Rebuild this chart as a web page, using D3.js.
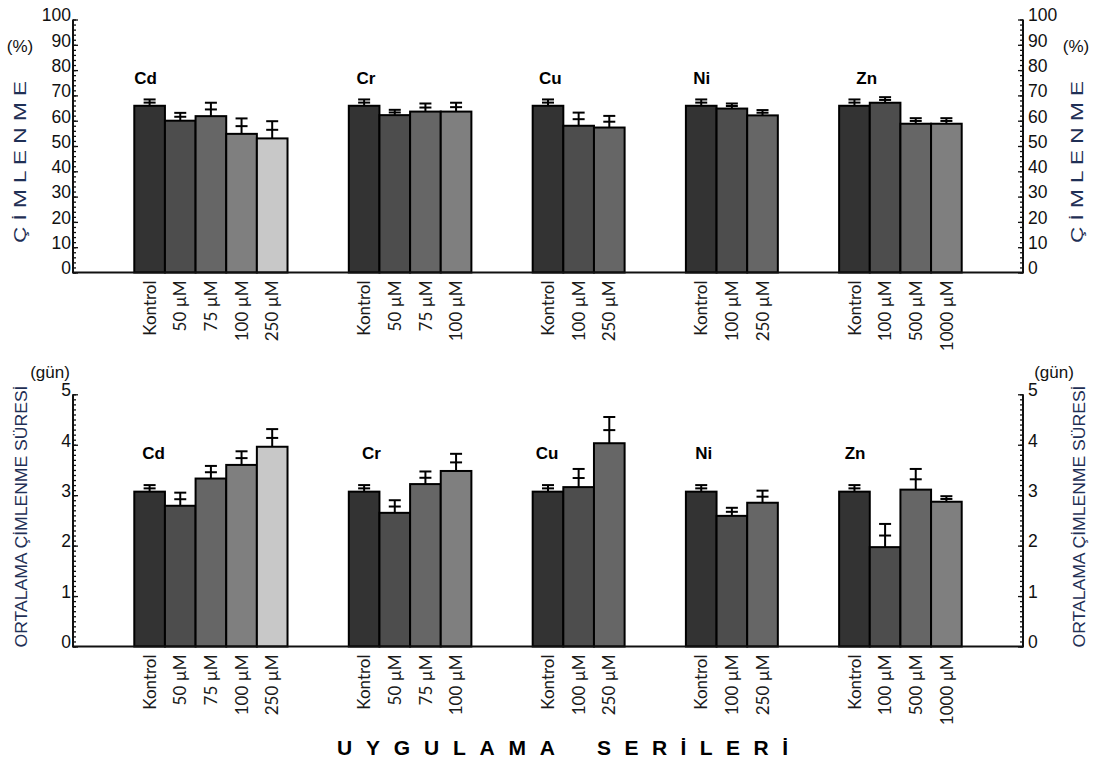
<!DOCTYPE html>
<html>
<head>
<meta charset="utf-8">
<script src="https://cdn.jsdelivr.net/npm/d3@7/dist/d3.min.js"></script>
<style>
  body { margin: 0; background: #fff; }
  text { font-family: "Liberation Sans", Arial, sans-serif; }
</style>
</head>
<body>
<div id="chart"></div>
<script>
// ---------- data ----------
const groupNames = ["Cd", "Cr", "Cu", "Ni", "Zn"];
const doseLabels = [
  ["Kontrol", "50 µM", "75 µM", "100 µM", "250 µM"],
  ["Kontrol", "50 µM", "75 µM", "100 µM"],
  ["Kontrol", "100 µM", "250 µM"],
  ["Kontrol", "100 µM", "250 µM"],
  ["Kontrol", "100 µM", "500 µM", "1000 µM"]
];
// germination (%)
const germPct = [
  [65.9, 60.0, 61.8, 54.8, 53.0],
  [65.9, 62.2, 63.6, 63.6],
  [65.9, 58.0, 57.3],
  [65.9, 64.8, 62.1],
  [65.9, 67.1, 58.8, 58.8]
];
const germPctErr = [
  [2.5, 3.1, 5.3, 6.1, 6.8],
  [2.5, 2.1, 3.2, 3.5],
  [2.5, 5.2, 4.6],
  [2.5, 2.0, 2.1],
  [2.5, 2.2, 2.2, 2.2]
];
// mean germination time (gün)
const meanDays = [
  [3.07, 2.79, 3.33, 3.60, 3.96],
  [3.07, 2.65, 3.22, 3.48],
  [3.07, 3.16, 4.03],
  [3.07, 2.59, 2.85],
  [3.07, 1.97, 3.11, 2.87]
];
const meanDaysErr = [
  [0.13, 0.26, 0.25, 0.27, 0.35],
  [0.13, 0.25, 0.25, 0.34],
  [0.13, 0.36, 0.52],
  [0.13, 0.16, 0.24],
  [0.13, 0.46, 0.41, 0.11]
];
const topTicks = d3.range(0, 101, 10);
const bottomTicks = d3.range(0, 6, 1);

// ---------- layout ----------
const width = 1103, height = 765;
const xLeft = 73, xRight = 1023;
const fills = ["#333333", "#4d4d4d", "#666666", "#7f7f7f", "#c8c8c8"];
const axisColor = "#111";
const titleColor = "#1f2f55";

const svg = d3.select("#chart").append("svg")
  .attr("width", width).attr("height", height);

// category slots with empty gaps between metal groups
const slots = [];
const gap = (n, k) => { for (let i = 0; i < n; i++) slots.push("gap" + k + "_" + i); };
gap(2, 0);
groupNames.forEach((g, gi) => {
  doseLabels[gi].forEach((d, di) => slots.push(g + "|" + di));
  gap(2, gi + 1);
});
const x = d3.scaleBand().domain(slots).range([xLeft, xRight]).padding(0);

const panels = [
  {
    y: d3.scaleLinear().domain([0, 100]).range([272.5, 19.5]),
    values: germPct, errs: germPctErr, major: topTicks, minorStep: 2,
    unit: "(%)", unitPos: [[20, 52], [1076, 52]],
    title: "Ç İ M L E N M E", titleLen: 162, titleX: [26, 1083], midY: 162,
    groupNudge: [0, 7.7, 6.3, 7.4, 17.2], groupBase: 83.5
  },
  {
    y: d3.scaleLinear().domain([0, 5]).range([646.5, 394.3]),
    values: meanDays, errs: meanDaysErr, major: bottomTicks, minorStep: 0.1,
    unit: "(gün)", unitPos: [[50, 378], [1054, 378]],
    title: "ORTALAMA ÇİMLENME SÜRESİ", titleLen: 262, titleX: [27, 1085], midY: 516.5,
    groupNudge: [8, 13.3, 3, 9.4, 5.5], groupBase: 458.5
  }
];

panels.forEach((p) => {
  const y = p.y;
  const y0 = y(0);
  const g = svg.append("g");
  const dom = y.domain();

  // minor + major ticks, inward on both sides
  const minor = d3.range(dom[0], dom[1] + p.minorStep / 2, p.minorStep);
  g.append("g").attr("transform", `translate(${xLeft},0)`)
    .call(d3.axisRight(y).tickValues(minor).tickSize(3).tickFormat(""))
    .call((a) => a.select(".domain").remove());
  g.append("g").attr("transform", `translate(${xLeft},0)`)
    .call(d3.axisRight(y).tickValues(p.major).tickSize(5).tickFormat(""))
    .call((a) => a.select(".domain").remove());
  g.append("g").attr("transform", `translate(${xRight},0)`)
    .call(d3.axisLeft(y).tickValues(minor).tickSize(3).tickFormat(""))
    .call((a) => a.select(".domain").remove());
  g.append("g").attr("transform", `translate(${xRight},0)`)
    .call(d3.axisLeft(y).tickValues(p.major).tickSize(5).tickFormat(""))
    .call((a) => a.select(".domain").remove());
  g.selectAll(".tick line").attr("stroke", axisColor).attr("stroke-width", 1.3);

  // axis lines
  [xLeft, xRight].forEach((ax) => {
    g.append("line").attr("x1", ax).attr("x2", ax)
      .attr("y1", y(dom[1])).attr("y2", y0)
      .attr("stroke", axisColor).attr("stroke-width", 2);
  });

  // tick labels
  g.selectAll(".lt").data(p.major).join("text")
    .attr("x", xLeft - 2).attr("y", (d) => y(d) + 1.8)
    .attr("text-anchor", "end").style("font-size", "17.5px").attr("fill", axisColor)
    .text((d) => d);
  g.selectAll(".rt").data(p.major).join("text")
    .attr("x", xRight + 5).attr("y", (d) => y(d) + 1.8)
    .attr("text-anchor", "start").style("font-size", "17.5px").attr("fill", axisColor)
    .text((d) => d);

  // bars
  const flat = [];
  groupNames.forEach((gn, gi) => {
    p.values[gi].forEach((v, di) => {
      flat.push({ key: gn + "|" + di, v, e: p.errs[gi][di], di, label: doseLabels[gi][di] });
    });
  });
  g.selectAll(".bar").data(flat).join("rect")
    .attr("x", (d) => x(d.key)).attr("width", x.bandwidth())
    .attr("y", (d) => y(d.v)).attr("height", (d) => y0 - y(d.v))
    .attr("fill", (d) => fills[d.di]).attr("stroke", "#000").attr("stroke-width", 2);

  // error bars: stem from bar top, cap at top and at midpoint
  const cx = (d) => x(d.key) + x.bandwidth() / 2;
  const eb = g.selectAll(".eb").data(flat).join("g");
  eb.append("line")
    .attr("x1", cx).attr("x2", cx)
    .attr("y1", (d) => y(d.v)).attr("y2", (d) => y(d.v + d.e))
    .attr("stroke", "#000").attr("stroke-width", 2);
  eb.append("line")
    .attr("x1", (d) => cx(d) - 6).attr("x2", (d) => cx(d) + 6)
    .attr("y1", (d) => y(d.v + d.e)).attr("y2", (d) => y(d.v + d.e))
    .attr("stroke", "#000").attr("stroke-width", 2);
  eb.append("line")
    .attr("x1", (d) => cx(d) - 6).attr("x2", (d) => cx(d) + 6)
    .attr("y1", (d) => y(d.v + d.e / 2)).attr("y2", (d) => y(d.v + d.e / 2))
    .attr("stroke", "#000").attr("stroke-width", 2);

  // baseline
  g.append("line").attr("x1", xLeft - 1).attr("x2", xRight + 1)
    .attr("y1", y0).attr("y2", y0)
    .attr("stroke", axisColor).attr("stroke-width", 2);

  // rotated category labels
  g.selectAll(".xl").data(flat).join("text")
    .attr("transform", (d) => `translate(${cx(d)},${y0 + 8}) rotate(-90)`)
    .attr("dy", "0.36em").attr("text-anchor", "end")
    .style("font-family", "Lato, 'Open Sans', sans-serif").style("font-size", "17px")
    .attr("fill", "#1a1a1a")
    .text((d) => d.label);

  // metal group names
  g.selectAll(".gl").data(groupNames).join("text")
    .attr("x", (d, i) => x(d + "|0") + p.groupNudge[i]).attr("y", p.groupBase)
    .style("font-size", "17px").style("font-weight", "bold").attr("fill", "#000")
    .text((d) => d);

  // units
  p.unitPos.forEach(([ux, uy]) => {
    g.append("text").attr("x", ux).attr("y", uy).attr("text-anchor", "middle")
      .style("font-size", "17px").attr("fill", axisColor).text(p.unit);
  });

  // axis titles
  p.titleX.forEach((tx) => {
    g.append("text")
      .attr("transform", `translate(${tx},${p.midY}) rotate(-90)`)
      .attr("text-anchor", "middle")
      .attr("textLength", p.titleLen).attr("lengthAdjust", "spacingAndGlyphs")
      .style("font-size", "17px").attr("fill", titleColor)
      .text(p.title);
  });
});

// bottom title
[["UYGULAMA", 337, 218], ["SERİLERİ", 597, 191]].forEach(([t, tx, len]) => {
  svg.append("text").attr("x", tx).attr("y", 755)
    .attr("textLength", len).attr("lengthAdjust", "spacing")
    .style("font-size", "21px").style("font-weight", "bold").attr("fill", "#000")
    .text(t);
});
</script>
</body>
</html>
